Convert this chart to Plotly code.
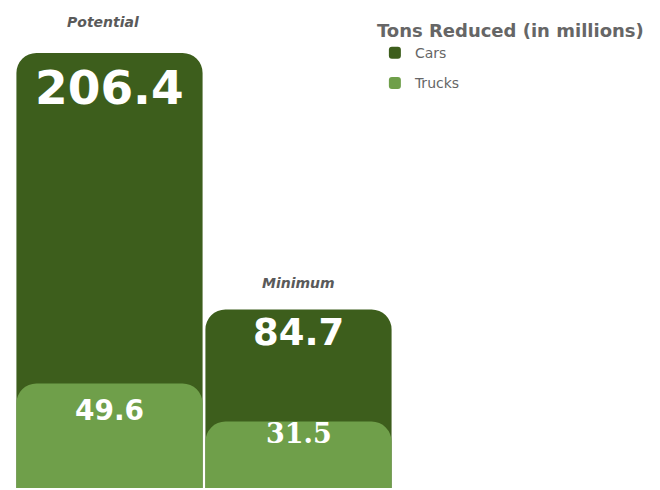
import plotly.graph_objects as go

categories = ["Potential", "Minimum"]
cars = [206.4, 84.7]
trucks = [49.6, 31.5]
legend_title = "Tons Reduced (in millions)"

DARK = "#3d5e1c"
LIGHT = "#6f9f4a"

fig = go.Figure()
fig.add_trace(go.Bar(x=categories, y=cars, name="Cars", legendgroup="c",
                     marker=dict(color=DARK, cornerradius=20, line=dict(width=0))))
fig.add_trace(go.Bar(x=categories, y=trucks, name="Trucks", legendgroup="t", xaxis="x2",
                     marker=dict(color=LIGHT, cornerradius=20, line=dict(width=0))))

annotations = []
car_sizes = [47, 37]
car_shift = [-35, -23]
label_shift = [31, 26]
label_xshift = [-7, 0]
for i, c in enumerate(categories):
    annotations.append(dict(x=c, y=cars[i], text=f"<b>{cars[i]}</b>", showarrow=False,
                            font=dict(family="DejaVu Sans", size=car_sizes[i], color="white"),
                            yshift=car_shift[i], xref="x", yref="y"))
    annotations.append(dict(x=c, y=cars[i], text=f"<b><i>{c}</i></b>", showarrow=False,
                            font=dict(family="DejaVu Sans", size=14, color="#5a5a5a"),
                            yshift=label_shift[i], xshift=label_xshift[i], xref="x", yref="y"))
truck_fonts = ["DejaVu Sans", "DejaVu Serif"]
truck_sizes = [28, 27]
truck_shift = [-27, -12]
for i, c in enumerate(categories):
    annotations.append(dict(x=c, y=trucks[i], text=f"<b>{trucks[i]}</b>", showarrow=False,
                            font=dict(family=truck_fonts[i], size=truck_sizes[i], color="white"),
                            yshift=truck_shift[i], xref="x", yref="y"))

fig.update_layout(
    width=660, height=490,
    margin=dict(l=15, r=267, t=0, b=2, autoexpand=False),
    barmode="overlay", bargap=0.015,
    plot_bgcolor="white", paper_bgcolor="white",
    xaxis=dict(visible=False, range=[-0.5, 1.5]),
    xaxis2=dict(visible=False, range=[-0.5, 1.5], overlaying="x", matches="x"),
    yaxis=dict(visible=False, range=[0, 231.5]),
    showlegend=True,
    legend=dict(xref="container", yref="container", x=0.568, y=0.972, xanchor="left", yanchor="top",
                title=dict(text="<b>" + legend_title + "</b>", font=dict(family="DejaVu Sans", size=18, color="#666666")),
                font=dict(family="DejaVu Sans", size=14, color="#666666"),
                traceorder="grouped", itemsizing="constant", tracegroupgap=9),
    annotations=annotations,
)

fig.write_html("out.html", config={"displayModeBar": False},
               post_script="document.body.style.margin='0';")
